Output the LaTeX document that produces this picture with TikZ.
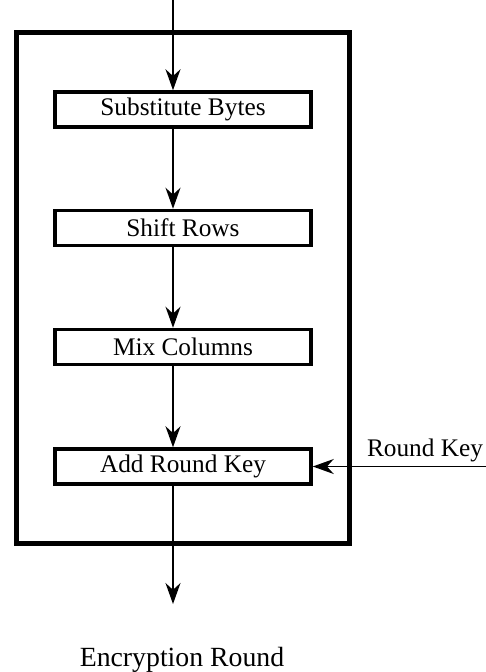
\documentclass[tikz,border=0pt]{standalone}
\usepackage{fontspec}
\setmainfont{Liberation Serif}
\usetikzlibrary{arrows.meta, positioning, calc}

\tikzset{
  stage/.style={draw, line width=2pt, minimum width=5.12cm, minimum height=0.7cm,
    inner sep=0pt, font=\fontsize{14.4}{17}\selectfont},
  flow/.style={line width=0.85pt, -{Stealth[length=4.2mm, width=3mm]}},
}

\begin{document}
\begin{tikzpicture}
  \useasboundingbox (0,0) rectangle (9.72,-13.44);

  % round frame
  \node[draw, line width=2.6pt, minimum width=6.66cm, minimum height=10.22cm, inner sep=0pt]
    (frame) at (3.66,-5.76) {};

  % stages
  \node[stage] (sub)   at (3.66,-2.19) {Substitute Bytes};
  \node[stage] (shift) at (3.66,-4.56) {Shift Rows};
  \node[stage] (mix)   at (3.66,-6.94) {Mix Columns};
  \node[stage] (add)   at (3.66,-9.33) {Add Round Key};

  \coordinate (in)   at (3.46,0);
  \coordinate (out)  at (3.46,-12.08);
  \coordinate (key)  at (9.72,-9.33);

  % data path
  \draw[flow] (in) -- (sub.north -| in);
  \draw[flow] (sub.south -| in) -- (shift.north -| in);
  \draw[flow] (shift.south -| in) -- (mix.north -| in);
  \draw[flow] (mix.south -| in) -- (add.north -| in);
  \draw[flow] (add.south -| in) -- (out);

  % key input
  \draw[flow] (key) -- (add.east);
  \node[font=\fontsize{14.4}{17}\selectfont] (keylabel) at (8.5,-9.0) {Round Key};

  \node[font=\fontsize{15.8}{18}\selectfont] (title) at (3.64,-13.2) {Encryption Round};
\end{tikzpicture}
\end{document}
